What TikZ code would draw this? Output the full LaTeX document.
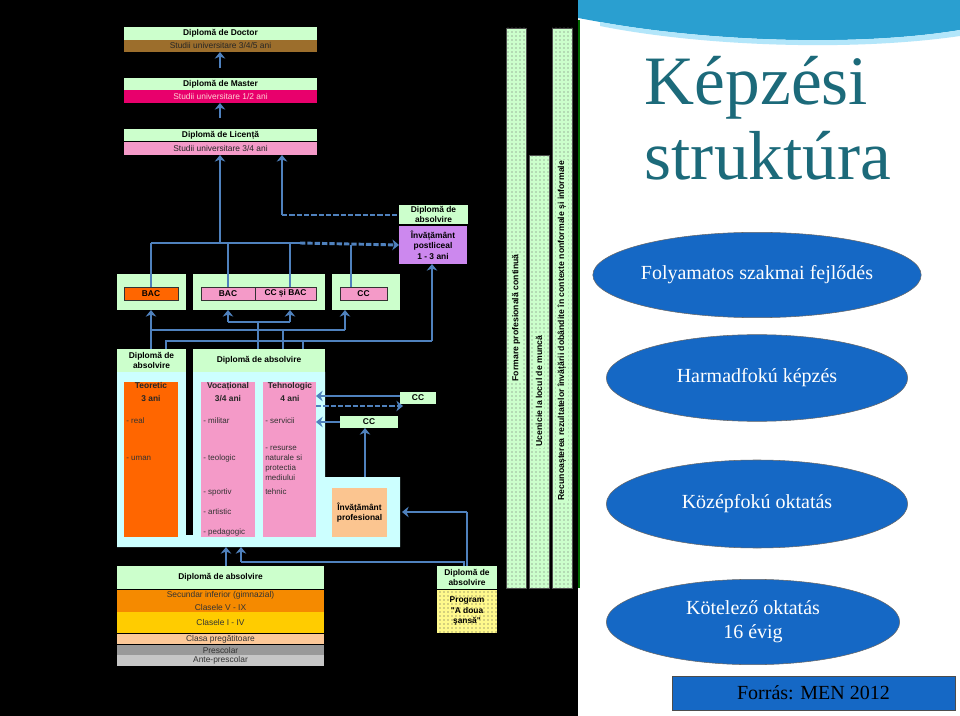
\documentclass[tikz,border=0pt]{standalone}
\usepackage{fontspec}
\setmainfont{Liberation Serif}
\newfontfamily\arialf{Liberation Sans}
\usetikzlibrary{arrows.meta,patterns,shapes.geometric}
\definecolor{arrowc}{HTML}{4F81BD}
\definecolor{lgreen}{HTML}{CCFFCC}
\definecolor{lcyan}{HTML}{CCFFFF}
\definecolor{brownb}{HTML}{9C6E2C}
\definecolor{crim}{HTML}{E8006C}
\definecolor{pinkb}{HTML}{F49AC8}
\definecolor{orng}{HTML}{FF6600}
\definecolor{orng2}{HTML}{F58A00}
\definecolor{yel}{HTML}{FFCC00}
\definecolor{peach}{HTML}{FCC898}
\definecolor{peach2}{HTML}{FBC590}
\definecolor{purp}{HTML}{CC88EE}
\definecolor{teal}{HTML}{1C6A7A}
\definecolor{ellb}{HTML}{1568C5}
\tikzset{
 bx/.style={inner sep=0pt,outer sep=0pt,align=center,font=\arialf\fontsize{6.3}{8}\selectfont},
 hd/.style={bx,fill=lgreen,font=\arialf\bfseries\fontsize{6.3}{8}\selectfont},
 ln/.style={draw=arrowc,line width=2.2pt},
 arr/.style={ln,-{Stealth[width=8pt,length=5pt]}},
 dsh/.style={dash pattern=on 4pt off 1.5pt},
 item/.style={anchor=west,inner sep=0pt,align=left,font=\arialf\fontsize{6}{7.5}\selectfont,text=black!80},
 ell/.style={ellipse,fill=ellb,draw=black!60,text=white,inner sep=0pt},
}
\newcommand\bx[7]{\node[#6,minimum width={(#4-#2)*0.75pt},minimum height={(#5-#3)*0.75pt}] (#1) at ({(#2+#4)/2},{(#3+#5)/2}) {#7};}
\begin{document}
\begin{tikzpicture}[x=0.75pt,y=-0.75pt]
\useasboundingbox (0,0) rectangle (960,716);
\fill[black] (0,0) rectangle (960,716);
% right panel
\fill[white] (578,0) rectangle (960,716);
\fill[cyan!70!teal] (578,0) -- (960,0) -- (960,30) .. controls (850,48) and (700,40) .. (600,22) -- (578,18) -- cycle;
\fill[cyan!30] (600,22) .. controls (700,40) and (850,48) .. (960,30) -- (960,36) .. controls (850,52) and (700,46) .. (600,26) -- cycle;
\draw[green!40!black,line width=1pt] (579,20) -- (579,588);
\node[text=teal,font=\fontsize{52}{56}\selectfont,align=left,anchor=west] (title) at (640,118) {Képzési\\struktúra};
\node[ell,minimum width=226pt,minimum height=64pt,font=\fontsize{15}{18}\selectfont] (e1) at (757,275) {Folyamatos szakmai fejlődés};
\node[ell,minimum width=226pt,minimum height=65pt,font=\fontsize{15}{18}\selectfont] (e2) at (757,378) {Harmadfokú képzés};
\node[ell,minimum width=226pt,minimum height=66pt,font=\fontsize{15}{18}\selectfont] (e3) at (757,504) {Középfokú oktatás};
\node[ell,minimum width=220pt,minimum height=64pt,font=\fontsize{15}{18}\selectfont,align=center] (e4) at (753,622) {Kötelező oktatás\\16 évig};
\bx{src}{672}{676}{955}{710}{fill=ellb,draw=black!70,font=\fontsize{15}{18}\selectfont}{Forrás: MEN 2012}
% university
\bx{doc}{124}{27}{317}{40}{hd}{Diplomă de Doctor}
\bx{docs}{124}{40}{317}{52}{bx,fill=brownb,text=black!85}{Studii universitare 3/4/5 ani}
\bx{mas}{124}{78}{317}{90}{hd}{Diplomă de Master}
\bx{mass}{124}{90}{317}{103}{bx,fill=crim,text=pink!70}{Studii universitare 1/2 ani}
\bx{lic}{124}{129}{317}{141}{hd}{Diplomă de Licență}
\bx{lics}{124}{142}{317}{155}{bx,fill=pinkb,text=black!85}{Studii universitare 3/4 ani}
% postliceal
\bx{pdip}{399}{205}{468}{224}{hd}{Diplomă de\\absolvire}
\bx{post}{399}{226}{467}{264}{hd,fill=purp}{Învățământ\\postliceal\\1 - 3 ani}
% BAC row
\bx{g1}{117}{274}{186}{310}{bx,fill=lgreen}{}
\bx{g2}{193}{274}{325}{310}{bx,fill=lgreen}{}
\bx{g3}{332}{274}{400}{310}{bx,fill=lgreen}{}
\bx{bac1}{124}{287}{178}{300}{hd,fill=orng,draw=black!80}{BAC}
\bx{bac2}{201}{287}{255}{300}{hd,fill=pinkb,draw=black!80}{BAC}
\bx{ccbac}{255}{287}{316}{300}{hd,fill=pinkb,draw=black!80}{CC și BAC}
\bx{cc1}{340}{287}{387}{300}{hd,fill=pinkb,draw=black!80}{CC}
% lower secondary block
\fill[lcyan] (117,372) -- (325,372) -- (325,477) -- (400,477) -- (400,547) -- (117,547) -- cycle;
\fill[black] (186,349) rectangle (193,535);
\bx{dl}{117}{349}{186}{372}{hd}{Diplomă de\\absolvire}
\bx{dr}{193}{349}{325}{372}{hd}{Diplomă de absolvire}
\bx{teo}{124}{382}{178}{537}{bx,fill=orng}{}
\bx{voc}{201}{382}{255}{537}{bx,fill=pinkb}{}
\bx{teh}{263}{382}{316}{537}{bx,fill=pinkb}{}
\bx{prof}{332}{488}{387}{537}{hd,fill=peach2}{Învățământ\\profesional}
\node[hd,fill=none,text=black!85] (teot) at (151,392) {Teoretic\\[2pt]3 ani};
\node[hd,fill=none,text=black!85] (voct) at (228,392) {Vocațional\\[2pt]3/4 ani};
\node[hd,fill=none,text=black!85] (teht) at (290,392) {Tehnologic\\[2pt]4 ani};
\node[item] (i1) at (126,421) {- real};
\node[item] (i2) at (126,458) {- uman};
\node[item] (i3) at (203,421) {- militar};
\node[item] (i4) at (203,458) {- teologic};
\node[item] (i5) at (203,492) {- sportiv};
\node[item] (i6) at (203,512) {- artistic};
\node[item] (i7) at (203,532) {- pedagogic};
\node[item] (i8) at (265,421) {- servicii};
\node[item] (i9) at (265,463) {- resurse\\naturale si\\protectia\\mediului};
\node[item] (i10) at (265,492) {tehnic};
\bx{cc2}{400}{392}{436}{404}{hd}{CC}
\bx{cc3}{340}{416}{398}{428}{hd}{CC}
% primary
\bx{pd}{117}{566}{324}{589}{hd}{Diplomă de absolvire}
\bx{gim}{117}{590}{324}{612}{bx,fill=orng2,text=black!80}{Secundar inferior (gimnazial)\\[2pt]Clasele V - IX}
\bx{cl14}{117}{612}{324}{633}{bx,fill=yel,text=black!80}{Clasele I - IV}
\bx{prep}{117}{634}{324}{644}{bx,fill=peach,text=black!80}{Clasa pregătitoare}
\bx{pres}{117}{645}{324}{655}{bx,fill=gray!80,text=black!80}{Prescolar}
\bx{ante}{117}{655}{324}{666}{bx,fill=gray!45,text=black!80}{Ante-prescolar}
% second chance
\bx{sdip}{437}{566}{497}{589}{hd}{Diplomă de\\absolvire}
\fill[yellow!45] (437,590) rectangle (497,633);
\fill[pattern=dots,pattern color=black!70] (437,590) rectangle (497,633);
\node[hd,fill=none] (sch) at (467,611) {Program\\"A doua\\şansă"};
% vertical columns
\foreach \xa/\ya in {506/28,529/155,552/28}{
 \fill[lgreen] (\xa,\ya) rectangle (\xa+20,588);
 \fill[pattern=dots,pattern color=black!60] (\xa,\ya) rectangle (\xa+20,588);
 \draw[black!70,line width=0.3pt] (\xa,\ya) rectangle (\xa+20,588);
}
\node[rotate=90,font=\arialf\bfseries\fontsize{6.5}{8}\selectfont,anchor=west,fill=lgreen,inner sep=1pt] (c1t) at (516,383) {Formare profesională continuă};
\node[rotate=90,font=\arialf\bfseries\fontsize{6.5}{8}\selectfont,anchor=west,fill=lgreen,inner sep=1pt] (c2t) at (539,448) {Ucenicie la locul de muncă};
\node[rotate=90,font=\arialf\bfseries\fontsize{6.5}{8}\selectfont,anchor=west,fill=lgreen,inner sep=1pt] (c3t) at (562,502) {Recunoașterea rezultatelor învățării dobândite în contexte nonformale și informale};
% connectors
\draw[arr] (220,68) -- (docs.south -| 220,0);
\draw[arr] (220,118) -- (mass.south -| 220,0);
\draw[arr] (220,243) -- (lics.south -| 220,0);
\draw[arr] (282,215) -- (lics.south -| 282,0);
\draw[ln,dsh] (282,215) -- (pdip.west |- 0,215);
\draw[ln] (151,243) -- (300,243) (bac1.north -| 151,0) -- (151,243);
\draw[ln] (bac2.north -| 228,0) -- (228,243);
\draw[ln] (ccbac.north -| 290,0) -- (290,243);
\draw[ln] (cc1.north -| 351,0) -- (351,245);
\draw[arr,dsh] (300,243) -- (post.west |- 0,245);
\draw[arr] (151,349) -- (g1.south -| 151,0);
\draw[arr] (228,322) -- (g2.south -| 228,0);
\draw[arr] (290,322) -- (g2.south -| 290,0);
\draw[ln] (228,322) -- (290,322) (258,322) -- (258,349);
\draw[ln] (151,330) -- (345,330);
\draw[arr] (345,330) -- (g3.south -| 345,0);
\draw[ln] (166,349) -- (166,341) -- (432,341);
\draw[arr] (432,341) -- (post.south -| 432,0);
\draw[ln] (283,349) -- (283,330) (303,349) -- (303,341);
\draw[arr] (cc2.west |- 0,396) -- (teh.east |- 0,396);
\draw[arr,dsh] (teh.east |- 0,406) -- (403,406);
\draw[arr] (cc3.west) -- (teh.east |- cc3.west);
\draw[arr] (365,477) -- (cc3.south -| 365,0);
\draw[ln] (sdip.north -| 467,0) -- (467,512);
\draw[arr] (467,512) -- (402,512);
\draw[arr] (pd.north -| 226,0) -- (226,547);
\draw[arr] (241,562) -- (241,547);
\draw[ln,line width=1.2pt] (241,562) -- (464,562) -- (sdip.north -| 464,0);
\end{tikzpicture}
\end{document}
